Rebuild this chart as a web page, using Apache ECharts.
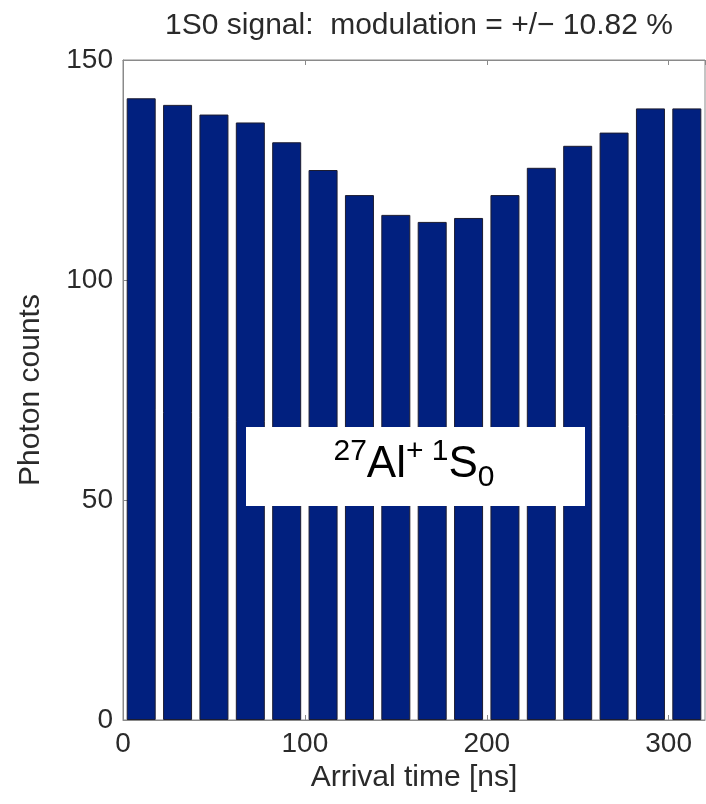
<!DOCTYPE html>
<html>
<head>
<meta charset="utf-8">
<script src="https://cdn.jsdelivr.net/npm/echarts@6/dist/echarts.min.js"></script>
<style>
html,body{margin:0;padding:0;background:#fff;}
#chart{width:706px;height:804px;}
</style>
</head>
<body>
<div id="chart"></div>
<script>
// Data
var binCenters = [10, 30, 50, 70, 90, 110, 130, 150, 170, 190, 210, 230, 250, 270, 290, 310];
var photonCounts = [141.3, 139.8, 137.6, 135.8, 131.3, 125.0, 119.3, 114.8, 113.2, 114.1, 119.3, 125.5, 130.5, 133.5, 139.0, 139.0];
var titleText = '1S0 signal:  modulation = +/\u2212 10.82 %';
var xName = 'Arrival time [ns]';
var yName = 'Photon counts';

var seriesData = binCenters.map(function (x, i) { return [x, photonCounts[i]]; });

var chart = echarts.init(document.getElementById('chart'), null, {renderer: 'canvas'});
var axisGray = '#8a8a8a';
var txt = '#2a2a2a';
var font = 'Liberation Sans, Arial, sans-serif';

chart.setOption({
  animation: false,
  backgroundColor: '#ffffff',
  textStyle: {fontFamily: font},
  title: {
    text: titleText,
    left: 414, top: 6, textAlign: 'center',
    textStyle: {fontSize: 30, fontWeight: 'normal', color: txt, fontFamily: font}
  },
  grid: {left: 123, right: 1, top: 60, bottom: 84, show: true, borderColor: axisGray, borderWidth: 1, backgroundColor: 'transparent'},
  xAxis: [{
    type: 'value', min: 0, max: 320, interval: 100,
    name: xName, nameLocation: 'middle', nameGap: 43,
    nameTextStyle: {fontSize: 30, color: txt, fontFamily: font},
    axisLine: {show: true, lineStyle: {color: axisGray, width: 1}},
    axisTick: {show: true, inside: true, length: 5, lineStyle: {color: axisGray}},
    axisLabel: {fontSize: 28, color: txt, margin: 10, showMaxLabel: false, fontFamily: font},
    splitLine: {show: false}
  }, {
    type: 'value', min: 0, max: 320, interval: 100, position: 'top',
    axisLine: {show: true, lineStyle: {color: axisGray, width: 1}},
    axisTick: {show: true, inside: true, length: 5, lineStyle: {color: axisGray}},
    axisLabel: {show: false},
    splitLine: {show: false}
  }],
  yAxis: [{
    type: 'value', min: 0, max: 150, interval: 50,
    name: yName, nameLocation: 'middle', nameGap: 77, nameRotate: 90,
    nameTextStyle: {fontSize: 30, color: txt, fontFamily: font},
    axisLine: {show: true, lineStyle: {color: axisGray, width: 1}},
    axisTick: {show: true, inside: true, length: 5, lineStyle: {color: axisGray}},
    axisLabel: {fontSize: 28, color: txt, margin: 10, fontFamily: font},
    splitLine: {show: false}
  }],
  series: [{
    type: 'bar',
    data: seriesData,
    barWidth: 29,
    itemStyle: {color: '#01207f', borderColor: '#1c1c30', borderWidth: 1},
    z: 1
  }],
  graphic: [{
    type: 'rect',
    shape: {x: 246, y: 427, width: 339, height: 79},
    style: {fill: '#ffffff'},
    z: 100
  }, {
    type: 'text',
    x: 414, y: 465,
    z: 101,
    style: {
      text: '{sup|27}{big|Al}{sup|+ 1}{big|S}{sub|0}',
      align: 'center',
      verticalAlign: 'middle',
      fill: '#000',
      fontFamily: font,
      rich: {
        big: {fontSize: 44, lineHeight: 56, fontFamily: font, fill: '#000'},
        sup: {fontSize: 30, lineHeight: 30, verticalAlign: 'top', fontFamily: font, fill: '#000'},
        sub: {fontSize: 30, lineHeight: 30, verticalAlign: 'bottom', fontFamily: font, fill: '#000'}
      }
    }
  }]
});
</script>
</body>
</html>
